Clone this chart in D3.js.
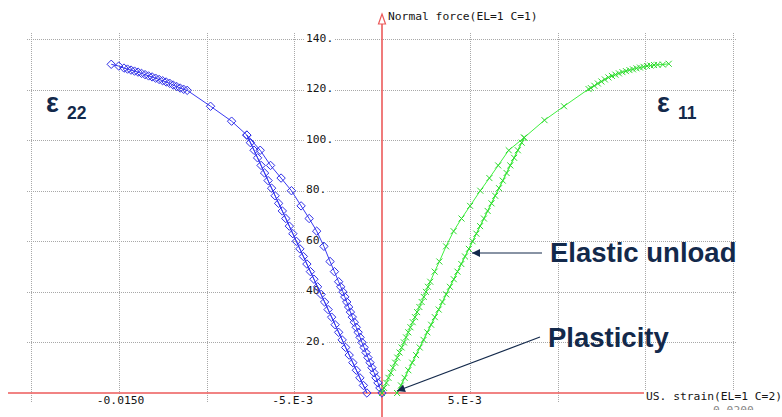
<!DOCTYPE html>
<html><head><meta charset="utf-8">
<script src="https://cdn.jsdelivr.net/npm/d3@7"></script>
<style>html,body{margin:0;padding:0;background:#fff;overflow:hidden}</style>
</head><body>
<svg id="c" width="782" height="417"></svg>
<script>
// ---- data (strain, normal force) ----
const xGridValues = [-0.02, -0.015, -0.01, -0.005, 0.005, 0.01, 0.015, 0.02];
const yGridValues = [20, 40, 60, 80, 100, 120, 140];
const xLabelValues = [-0.015, -0.005, 0.005];
const xLabelTexts = ["-0.0150", "-5.E-3", "5.E-3"];
const yLabelValues = [20, 40, 60, 80, 100, 120, 140];
const yLabelTexts = ["20.", "40.", "60.", "80.", "100.", "120.", "140."];
const xAxisTitle = "US. strain(EL=1 C=2)";
const yAxisTitle = "Normal force(EL=1 C=1)";

// epsilon 22 (blue): plastic loading, elastic unload, reload, further loading
const blueLoad = [[0,0],[-0.00012,2],[-0.00023,4],[-0.00034,6],[-0.00045,8],[-0.00057,10],[-0.00068,12],[-0.0008,14],[-0.00091,16],[-0.00102,18],[-0.00114,20],[-0.00125,22],[-0.00136,24],[-0.00147,26],[-0.00158,28],[-0.00169,30],[-0.0018,32],[-0.0019,34],[-0.00201,36],[-0.00212,38],[-0.00223,40],[-0.00235,42],[-0.00247,44],[-0.00271,48],[-0.00296,52],[-0.00331,58],[-0.00372,64],[-0.00415,69],[-0.00461,74],[-0.00516,80],[-0.00575,85],[-0.00635,90],[-0.00694,96],[-0.0077,102]];
const blueUnload = [[-0.00729,96],[-0.00689,90],[-0.00649,84],[-0.00609,78],[-0.00568,72],[-0.00528,66],[-0.00488,60],[-0.00448,54],[-0.00408,48],[-0.00367,42],[-0.00327,36],[-0.00287,30],[-0.00247,24],[-0.00207,18],[-0.00166,12],[-0.00126,6],[-0.00086,0]];
const blueReload = [[-0.00106,3],[-0.00146,9],[-0.00187,15],[-0.00227,21],[-0.00267,27],[-0.00307,33],[-0.00347,39],[-0.00388,45],[-0.00428,51],[-0.00468,57],[-0.00508,63],[-0.00548,69],[-0.00589,75],[-0.00629,81],[-0.00669,87],[-0.00709,93],[-0.0075,99]];
const blueUpper = [[-0.0077,102],[-0.00857,107.5],[-0.00977,113.4],[-0.0111,119.7],[-0.0113,120.1],[-0.0115,120.6],[-0.0117,121.2],[-0.0119,121.8],[-0.0121,122.5],[-0.0123,123.0],[-0.0125,123.5],[-0.0127,124.0],[-0.0129,124.5],[-0.0131,125.0],[-0.0133,125.4],[-0.0135,125.9],[-0.0137,126.4],[-0.0139,126.9],[-0.0141,127.3],[-0.0143,127.7],[-0.0145,128.1],[-0.0147,128.5],[-0.015,129.3],[-0.01543,130]];

// epsilon 11 (green)
const greenLoad = [[0,0],[0.00012,2],[0.00025,4],[0.00037,6],[0.0005,8],[0.00062,10],[0.00075,12],[0.00087,14],[0.001,16],[0.00112,18],[0.00125,20],[0.00137,22],[0.0015,24],[0.00162,26],[0.00175,28],[0.00188,30],[0.002,32],[0.00213,34],[0.00226,36],[0.00238,38],[0.0025,40],[0.00262,42],[0.00275,44],[0.003,48],[0.00327,52],[0.00365,58],[0.00408,64],[0.00453,69],[0.00502,74],[0.0056,80],[0.00612,85],[0.00662,90],[0.00722,96],[0.0081,101]];
const greenUnload = [[0.00774,96],[0.00731,90],[0.00688,84],[0.00645,78],[0.00602,72],[0.00559,66],[0.00516,60],[0.00473,54],[0.0043,48],[0.00387,42],[0.00344,36],[0.00301,30],[0.00258,24],[0.00215,18],[0.00172,12],[0.00129,6],[0.00086,0]];
const greenReload = [[0.00108,3],[0.0015,9],[0.00194,15],[0.00237,21],[0.0028,27],[0.00323,33],[0.00366,39],[0.00409,45],[0.00452,51],[0.00495,57],[0.00538,63],[0.00581,69],[0.00624,75],[0.00667,81],[0.0071,87],[0.00753,93],[0.00796,99]];
const greenUpper = [[0.0081,101],[0.00926,107.9],[0.01037,113.4],[0.01177,120.2],[0.0119,120.6],[0.0121,121.5],[0.0123,122.4],[0.0125,123.2],[0.0127,124.0],[0.0129,124.8],[0.0131,125.4],[0.0133,125.9],[0.0135,126.4],[0.0137,126.9],[0.0139,127.3],[0.0141,127.7],[0.0143,128.0],[0.0145,128.4],[0.0147,128.7],[0.0149,129.0],[0.0151,129.3],[0.0153,129.5],[0.0155,129.7],[0.0157,129.8],[0.016,129.9],[0.01634,130.2]];

// ---- drawing ----
const svg = d3.select("#c");
const x = d3.scaleLinear().domain([-0.02, 0.02]).range([31, 733]);
const y = d3.scaleLinear().domain([0, 140]).range([393, 39]);
const mono = "'DejaVu Sans Mono', monospace";
const red = "#ec5a5a";
const ink = "#151515";

svg.append("rect").attr("width", 782).attr("height", 417).attr("fill", "#fff");

// grid
const grid = svg.append("g").attr("stroke", "#a8a8a8").attr("stroke-width", 1).attr("stroke-dasharray", "1,1");
grid.selectAll("line.v").data(xGridValues).join("line")
  .attr("x1", d => Math.round(x(d)) + 0.5).attr("x2", d => Math.round(x(d)) + 0.5)
  .attr("y1", 33).attr("y2", 402);
grid.selectAll("line.h").data(yGridValues).join("line")
  .attr("x1", 27).attr("x2", 736)
  .attr("y1", d => Math.round(y(d)) + 0.5).attr("y2", d => Math.round(y(d)) + 0.5);

// red axes
const x0 = x(0), y0 = y(0);
svg.append("line").attr("x1", 8).attr("x2", 644).attr("y1", y0).attr("y2", y0)
  .attr("stroke", red).attr("stroke-width", 1.6);
svg.append("line").attr("x1", x0).attr("x2", x0).attr("y1", 24).attr("y2", 417)
  .attr("stroke", red).attr("stroke-width", 1.6);
svg.append("path").attr("d", `M${x0},14L${x0+3.5},24L${x0-3.5},24Z`)
  .attr("fill", "#fff").attr("stroke", red).attr("stroke-width", 1.2);

// partially hidden tick label under axis title
svg.append("clipPath").attr("id", "cl").append("rect")
  .attr("x", 700).attr("y", 405).attr("width", 70).attr("height", 5);
svg.append("text").attr("x", x(0.02) - 20).attr("y", 414).attr("clip-path", "url(#cl)")
  .attr("font-family", mono).attr("font-size", 11.3).attr("fill", "#888").text("0.0200");

// labels with white backgrounds
function labelWithBg(g, tx, ty, txt, anchor) {
  const t = g.append("text").attr("x", tx).attr("y", ty).attr("text-anchor", anchor || "start")
    .attr("font-family", mono).attr("font-size", 11.3).attr("fill", ink).text(txt);
  const b = t.node().getBBox();
  g.insert("rect", "text").attr("x", b.x - 1).attr("y", b.y).attr("width", b.width + 2).attr("height", b.height)
    .attr("fill", "#fff");
}
const lab = svg.append("g");
xLabelValues.forEach((v, i) => labelWithBg(lab.append("g"), x(v) - 22, 404, xLabelTexts[i]));
yLabelValues.forEach((v, i) => labelWithBg(lab.append("g"), 306, y(v) + 2.5, yLabelTexts[i]));
labelWithBg(lab.append("g"), 646, 400, xAxisTitle);
lab.append("text").attr("x", 388).attr("y", 20).attr("font-family", mono).attr("font-size", 11.3)
  .attr("fill", ink).text(yAxisTitle);

// series
const line = d3.line().x(d => x(d[0])).y(d => y(d[1]));
function drawSeries(parts, color, markerPath, mColor) {
  const all = [].concat(...parts);
  svg.append("path").datum(all).attr("d", line).attr("fill", "none")
    .attr("stroke", color).attr("stroke-width", 1);
  svg.append("g").selectAll("path").data(all).join("path")
    .attr("transform", d => `translate(${x(d[0])},${y(d[1])})`)
    .attr("d", markerPath).attr("fill", "none").attr("stroke", mColor).attr("stroke-width", 1);
}
drawSeries([blueLoad, blueUnload, blueReload, blueUpper], "#3a3af2",
  "M0,-4.2L4.2,0L0,4.2L-4.2,0Z", "#2f2fe8");
drawSeries([greenLoad, greenUnload, greenReload, greenUpper], "#3ff03f",
  "M-3,-3L3,3M-3,3L3,-3", "#2fd82f");

// annotations
const navy = "#13294b";
const ann = svg.append("g");
svg.append("defs").append("marker").attr("id", "ah").attr("viewBox", "0 0 10 10")
  .attr("refX", 10).attr("refY", 5).attr("markerWidth", 10).attr("markerHeight", 8)
  .attr("markerUnits", "userSpaceOnUse").attr("orient", "auto")
  .append("path").attr("d", "M0,0L10,5L0,10Z").attr("fill", navy);
ann.append("line").attr("x1", 542).attr("y1", 253).attr("x2", 472).attr("y2", 253)
  .attr("stroke", navy).attr("stroke-width", 1.2).attr("marker-end", "url(#ah)");
ann.append("line").attr("x1", 540).attr("y1", 337).attr("x2", 397).attr("y2", 391)
  .attr("stroke", navy).attr("stroke-width", 1.2).attr("marker-end", "url(#ah)");
const big = "'Liberation Sans', Arial, sans-serif";
ann.append("text").attr("x", 550).attr("y", 262).attr("font-family", big).attr("font-weight", "bold")
  .attr("font-size", 27.5).attr("fill", navy).text("Elastic unload");
ann.append("text").attr("x", 548).attr("y", 347).attr("font-family", big).attr("font-weight", "bold")
  .attr("font-size", 27.5).attr("fill", navy).text("Plasticity");
function eps(tx, ty, sub) {
  ann.append("text").attr("x", tx).attr("y", ty).attr("font-family", big).attr("font-weight", "bold")
    .attr("font-size", 27).attr("fill", navy).text("ε");
  ann.append("text").attr("x", tx + 21).attr("y", ty + 7).attr("font-family", big).attr("font-weight", "bold")
    .attr("font-size", 17.5).attr("fill", navy).text(sub);
}
eps(46, 112, "22");
eps(657, 112, "11");
</script>
</body></html>
